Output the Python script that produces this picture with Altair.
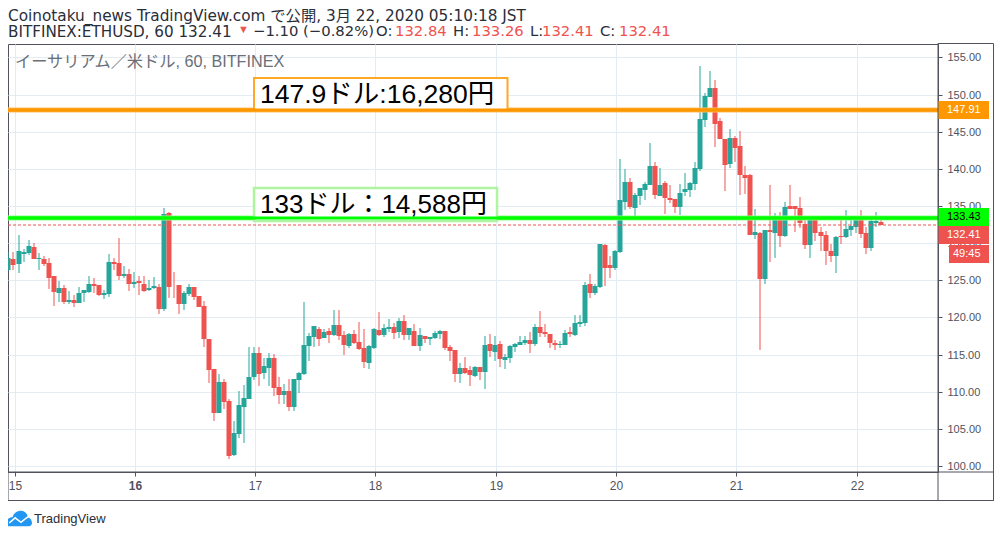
import altair as alt
import pandas as pd

opens = [126.35,127.8,127.2,128.56,128.7,129.46,127.84,127.84,127.3,125.54,
123.24,123.92,122.03,122.3,121.89,123.29,123.38,124.46,124.32,122.97,
123.11,127.43,127.3,125.54,125.8,124.46,124.86,124.46,123.65,123.92,
124.14,121.08,134.05,124.14,124.32,121.76,123.11,124.05,122.84,121.49,
117.03,113.11,107.16,111.35,108.78,101.44,104.32,107.97,109.05,112.03,
115.27,112.57,113.24,114.59,110.68,109.59,110.14,107.97,111.62,112.43,
116.13,117.34,118.42,117.21,118.15,117.61,118.96,117.61,116.13,117.75,
116.67,115.86,113.83,115.86,118.29,117.61,118.42,118.69,118.02,119.5,
117.61,118.15,116.13,117.48,117.07,117.21,117.75,118.15,115.99,115.59,
112.34,113.15,112.88,112.07,113.29,112.61,116.4,115.32,116.4,114.23,
114.5,115.99,116.26,116.53,116.94,116.4,118.69,118.02,117.75,116.53,
116.26,116.26,118.02,117.61,119.1,119.23,124.5,123.29,124.1,129.77,
127.07,126.67,128.83,135.59,138.29,134.77,136.4,137.21,137.88,140.32,
136.4,138.15,136.13,135.99,134.91,136.94,137.21,138.02,139.91,146.53,
149.64,150.86,146.4,143.96,140.59,144.1,143.02,139.23,139.14,131.04,
131.31,125.23,131.71,131.31,133.2,130.9,134.95,134.95,134.68,132.52,
129.68,133.2,131.44,131.04,129.0,128.2,130.9,130.77,131.71,132.12,
133.06,131.31,129.28,132.66,132.84]
highs = [128.78,128.78,131.08,129.19,130.4,130.0,128.65,128.24,127.97,125.54,
124.86,124.32,123.51,122.97,124.05,123.65,125.54,125.27,124.32,123.65,
128.51,127.97,130.68,126.9,126.49,126.1,125.54,125.54,125.0,125.4,
124.46,134.73,134.19,126.08,124.32,123.51,124.46,124.05,122.84,122.16,
117.03,113.11,112.43,111.76,109.05,106.08,110.14,110.95,115.95,115.95,
115.95,114.59,115.27,115.14,112.03,111.08,111.76,111.76,112.7,122.03,
117.88,118.83,118.69,118.42,118.56,120.99,120.99,118.15,117.88,118.29,
119.37,118.42,116.26,118.56,120.72,119.1,119.77,119.23,119.91,120.32,
118.56,119.1,118.56,117.48,117.34,118.15,118.29,118.15,116.26,115.59,
113.83,114.64,113.42,113.42,113.29,117.48,117.75,117.48,116.8,115.05,
116.26,116.53,117.48,117.48,118.02,119.1,120.86,119.1,117.75,116.94,
116.8,118.29,118.69,120.32,120.32,124.77,125.86,124.5,129.91,129.91,
128.29,129.1,141.26,139.91,138.83,136.8,137.48,138.29,143.42,140.86,
140.05,138.42,137.88,135.99,138.02,139.37,138.29,140.86,153.83,150.18,
153.15,151.94,146.8,143.96,145.32,144.37,145.05,140.32,139.28,134.55,
131.44,131.71,137.79,134.0,134.14,135.5,137.79,134.95,136.17,133.2,
133.2,133.2,132.12,131.58,129.82,130.9,133.2,134.41,133.33,133.33,
134.41,132.12,133.2,134.14,133.26]
lows = [126.2,126.35,126.0,127.43,128.4,127.84,126.35,126.9,123.78,121.49,
122.03,121.76,121.76,121.35,121.89,122.1,123.24,123.24,122.84,122.43,
122.7,126.35,125.0,125.27,123.51,123.92,122.97,123.38,123.51,123.78,
120.41,120.81,122.57,122.57,120.41,120.95,122.84,122.3,121.35,115.95,
111.22,106.08,107.16,107.7,100.95,101.35,103.78,103.11,109.05,111.62,
110.81,111.76,110.81,109.46,108.38,108.38,107.43,107.43,109.86,112.3,
114.1,115.99,116.13,117.21,116.53,117.48,116.94,114.91,115.86,116.4,
115.59,113.15,113.02,115.72,117.48,117.34,118.02,117.07,117.21,116.94,
116.94,116.13,115.45,116.53,116.26,117.07,117.07,115.59,114.1,111.26,
111.13,112.34,110.72,111.94,111.53,110.32,114.64,114.1,113.29,113.02,
113.83,115.32,116.26,116.26,115.18,116.13,117.34,117.34,115.86,115.59,
115.86,116.26,117.34,117.48,118.69,118.83,122.61,123.02,123.96,124.23,
125.32,126.4,128.7,134.5,134.64,133.69,135.18,135.86,137.88,135.99,
136.4,133.96,135.45,134.1,133.83,136.4,136.26,137.21,139.77,145.59,
149.64,142.88,143.96,137.07,140.05,140.86,136.53,136.67,131.04,130.5,
115.63,124.55,127.52,128.06,129.41,130.77,134.55,131.44,131.98,129.14,
128.06,130.23,128.87,127.12,127.52,126.04,129.82,130.63,130.9,131.31,
130.63,128.6,129.0,132.12,132.41]
closes = [128.06,127.07,128.92,128.78,129.6,127.84,127.97,127.2,125.27,123.38,
123.92,122.03,122.3,121.89,123.24,123.65,124.46,124.19,122.97,123.24,
127.43,127.16,125.54,125.8,124.46,124.73,124.59,123.51,124.0,124.19,
121.08,133.92,124.05,124.05,121.76,123.24,124.05,122.7,121.35,117.03,
112.97,107.16,111.35,108.65,101.35,104.46,108.24,109.19,112.03,115.27,
112.43,113.51,114.59,110.54,109.59,110.14,107.97,111.76,112.57,116.22,
117.48,118.83,117.07,118.02,117.61,118.96,117.48,116.26,117.75,116.53,
115.72,113.96,116.13,118.42,117.61,118.56,118.69,117.88,119.5,117.61,
118.56,116.13,117.61,117.07,117.34,117.88,118.15,115.86,115.45,112.34,
113.15,112.48,112.21,113.29,112.61,116.26,115.45,116.26,114.37,114.64,
116.13,116.4,116.67,116.94,116.4,118.69,117.88,117.75,116.53,116.26,
116.4,117.88,117.75,119.23,119.37,124.37,123.29,124.23,129.91,126.67,
126.67,128.96,135.86,138.29,134.91,136.53,137.48,138.02,140.32,136.53,
137.88,136.13,135.86,134.91,136.8,137.34,138.15,140.05,146.67,149.77,
150.86,145.99,143.96,140.45,144.1,142.75,139.23,138.83,131.04,131.44,
125.23,131.71,131.44,133.2,130.9,134.82,134.55,134.55,132.66,129.68,
133.2,131.31,130.9,128.87,128.2,130.77,130.77,131.85,132.25,133.2,
131.17,129.28,132.93,132.93,132.41]

BAR_OFFSET = 1.2          # the bars sit slightly left of their day ticks in the reference
price_ticks = [100,105,110,115,120,125,130,135,140,145,150,155]
day_ticks = [0,24,48,72,96,120,144,168]
UP, DOWN = "#26a69a", "#ef5350"
TXT = "#50535e"
GRID = "#e3ecf2"
LATIN = "Liberation Sans, Noto Sans CJK JP"
HEAD = "DejaVu Sans, Noto Sans CJK JP"
INK = "#2a2e39"

n = min(len(opens), len(highs), len(lows), len(closes))
df = pd.DataFrame({"h": [i - BAR_OFFSET for i in range(n)],
                   "o": opens[:n], "hi": highs[:n], "lo": lows[:n], "c": closes[:n]})
df["top"] = df[["o", "c"]].max(axis=1)
df["bot"] = df[["o", "c"]].min(axis=1)
df["col"] = [UP if c >= o else DOWN for o, c in zip(df.o, df.c)]

xs = alt.Scale(domain=[-1.297, 184.24], nice=False, zero=False, padding=0, round=True)
ys = alt.Scale(domain=[99.19, 156.8], nice=False, zero=False, padding=0, round=True)
xax = alt.Axis(values=day_ticks, title=None, labelExpr="datum.value/24+15", grid=True, gridColor=GRID,
               gridWidth=1, tickSize=4, tickColor=TXT, domainColor=TXT, labelColor=TXT, labelFontSize=12,
               labelFont="Liberation Sans", labelPadding=4, labelFlush=False,
               labelFontWeight=alt.condition("datum.value == 24", alt.value("bold"), alt.value("normal")))
yax = alt.Axis(values=price_ticks, orient="right", title=None, format=".2f", grid=True, gridColor=GRID,
               gridWidth=1, tickSize=4, tickColor=TXT, domainColor=TXT, labelColor=TXT, labelFontSize=11,
               labelFont="Liberation Sans", labelPadding=5)

wicks = alt.Chart(df).mark_rule(size=1).encode(
    x=alt.X("h:Q", scale=xs, axis=xax), y=alt.Y("lo:Q", scale=ys, axis=yax), y2="hi:Q",
    color=alt.Color("col:N", scale=None))
bodies = alt.Chart(df).mark_bar(size=5, orient="vertical").encode(
    x=alt.X("h:Q", scale=xs, axis=xax), y=alt.Y("bot:Q", scale=ys, axis=yax), y2="top:Q",
    color=alt.Color("col:N", scale=None))

one = alt.Data(values=[{"a": 1}])
def T(px, py, s, size=12, color=TXT, font=LATIN, align="left", weight="normal", opacity=1):
    return alt.Chart(one).mark_text(align=align, baseline="middle", fontSize=size, font=font, color=color,
                                    fontWeight=weight, opacity=opacity).encode(
        x=alt.value(px - 8), y=alt.value(py - 44), text=alt.value(s))
def R(x0, x1, y0, y1, fill=None, stroke=None, sw=1, opacity=1):
    kw = {"opacity": opacity}
    kw["fill"] = fill if fill else "transparent"
    if stroke:
        kw["stroke"] = stroke
        kw["strokeWidth"] = sw
    return alt.Chart(one).mark_rect(**kw).encode(
        x=alt.value(x0 - 8), x2=alt.value(x1 - 8), y=alt.value(y0 - 44), y2=alt.value(y1 - 44))

def level(price, color, width, **kw):
    d = pd.DataFrame({"p": [price]})
    return alt.Chart(d).mark_rule(color=color, size=width, **kw).encode(
        y=alt.Y("p:Q", scale=ys, axis=yax), x=alt.value(0), x2=alt.value(930))

orange_level, green_level, last_price = 147.91, 133.43, 132.41
layers = [
    wicks, bodies,
    level(last_price, DOWN, 1, strokeDash=[3, 2]),
    level(orange_level, "#ffc06a", 5), level(orange_level, "#ff9800", 3),
    level(green_level, "#8dff8d", 5), level(green_level, "#00ff00", 3),
    R(254, 507.5, 78, 110, fill="#ffffff", stroke="#ffa726", sw=2),
    R(254, 497, 188, 221, fill="#ffffff", stroke="#aef5a0", sw=2.5),
    level(orange_level, "#ff9800", 3), level(green_level, "#00ff00", 3),
    T(260, 95, "147.9ドル:16,280円", size=26.5, color="#000000"),
    T(260, 204.5, "133ドル：14,588円", size=26, color="#000000"),
    T(15, 62, "イーサリアム／米ドル, 60, BITFINEX", size=16.2, color="#6a6f78"),
    R(938, 989, 101, 119, fill="#ff9800"),
    R(938, 989, 208, 226, fill="#00ff00"),
    R(938, 989, 226, 244, fill=DOWN),
    R(949, 989, 245, 263, fill=DOWN),
    T(947, 110, "147.91", size=11, color="#ffffff"),
    T(947, 217, "133.43", size=11, color="#000000"),
    T(947, 235, "132.41", size=11, color="#ffffff"),
    T(953, 254, "49:45", size=11, color="#ffffff"),
    R(938, 993.5, 43.5, 500.5, stroke=TXT, sw=1),
    R(8, 993.5, 472, 500.5, stroke=TXT, sw=1),
    T(8, 16, "Coinotaku_news TradingView.com で公開, 3月 22, 2020 05:10:18 JST", size=15.3, color=INK, font=HEAD),
    T(8, 32, "BITFINEX:ETHUSD, 60 132.41", size=15.2, color=INK, font=HEAD),
    T(238, 30, "▼", size=11, color=DOWN),
    T(253, 32, "−1.10 (−0.82%)", size=14.8, color=INK, font=HEAD),
    T(376, 32, "O:", size=14.8, color=INK, font=HEAD),
    T(395, 32, "132.84", size=14.8, color=DOWN, font=HEAD),
    T(453, 32, "H:", size=14.8, color=INK, font=HEAD),
    T(472, 32, "133.26", size=14.8, color=DOWN, font=HEAD),
    T(530, 32, "L:", size=14.8, color=INK, font=HEAD),
    T(542, 32, "132.41", size=14.8, color=DOWN, font=HEAD),
    T(600, 32, "C:", size=14.8, color=INK, font=HEAD),
    T(619, 32, "132.41", size=14.8, color=DOWN, font=HEAD),
    T(34, 519, "TradingView", size=13, color=INK),
    alt.Chart(one).mark_point(filled=True, color="#2196f3", opacity=1, size=676,
        shape="M-1 0.45C-1 0.05 -0.75 -0.1 -0.5 -0.1C-0.4 -0.45 -0.1 -0.6 0.15 -0.6C0.45 -0.6 0.65 -0.35 0.68 -0.1C0.88 -0.05 1 0.15 1 0.35C1 0.5 0.9 0.6 0.75 0.6L-0.8 0.6C-0.92 0.6 -1 0.55 -1 0.45Z").encode(
        x=alt.value(11), y=alt.value(518.5 - 44)),
    alt.Chart(one).mark_point(filled=False, color="#ffffff", opacity=1, size=676, strokeWidth=1.5,
        shape="M-0.75 0.35L-0.3 -0.05L0.15 0.3L0.45 0.05L0.8 -0.2").encode(
        x=alt.value(11), y=alt.value(518.5 - 44)),
]

chart = alt.layer(*layers).properties(
    width=930, height=428,
    padding={"left": 0, "top": 36, "right": 56, "bottom": 56},
    autosize=alt.AutoSizeParams(type="none"),
).configure_view(stroke=TXT)

chart.save("out.html", embed_options={"renderer": "svg", "actions": False})
